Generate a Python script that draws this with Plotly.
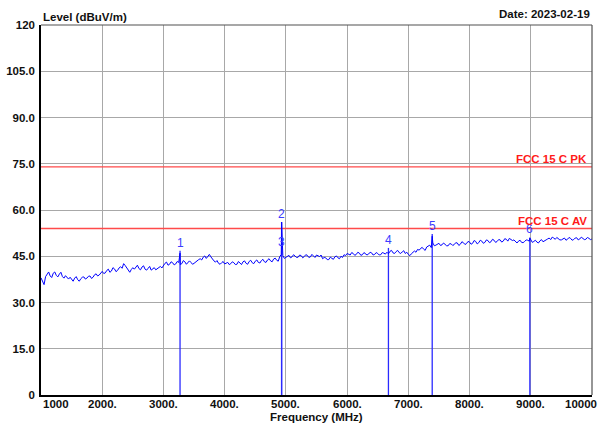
import numpy as np
import plotly.graph_objects as go

# ---- data ----
freq_start, freq_step = 1000, 50
level_trace = [
    38.0, 35.8, 39.2, 38.6, 39.5, 38.8, 39.2, 38.4, 38.7, 37.6,
    37.3, 37.9, 37.4, 37.7, 38.3, 37.9, 38.6, 38.2, 39.3, 38.9,
    40.1, 39.6, 40.8, 40.2, 40.9, 40.4, 41.6, 42.6, 41.2, 39.8,
    41.3, 41.6, 41.0, 41.5, 40.8, 41.1, 40.5, 41.3, 41.0, 41.7,
    42.2, 43.1, 42.4, 42.9, 42.5, 43.0, 42.6, 43.2, 42.8, 43.0,
    42.7, 43.6, 44.2, 44.7, 44.3, 45.6, 44.0, 43.1, 42.7, 42.9,
    42.5, 43.0, 42.6, 42.9, 42.4, 42.8, 43.2, 42.7, 43.3, 42.9,
    43.4, 43.0, 43.6, 43.2, 43.8, 43.5, 44.1, 43.7, 44.9, 45.2,
    44.6, 45.3, 44.8, 45.1, 44.7, 45.2, 44.9, 45.3, 44.8, 45.1,
    45.4, 44.9, 44.2, 44.5, 43.9, 44.3, 44.8, 44.5, 45.0, 45.5,
    45.9, 45.4, 45.9, 45.6, 46.0, 45.5, 45.9, 45.7, 46.1, 45.6,
    45.9, 45.5, 46.0, 46.3, 46.6, 46.1, 46.5, 46.2, 46.4, 45.9,
    45.6, 45.8, 46.7, 47.2, 47.6, 47.3, 48.0, 48.6, 49.3, 48.6,
    49.2, 48.7, 48.9, 48.4, 49.0, 48.8, 49.3, 48.9, 49.4, 49.1,
    49.6, 49.2, 49.8, 49.4, 49.9, 49.5, 50.1, 49.7, 50.2, 49.8,
    50.3, 49.9, 50.5, 50.8, 50.1, 49.7, 49.9, 49.5, 49.8, 50.2,
    50.4, 49.8, 49.6, 50.0, 49.7, 50.3, 50.9, 51.2, 50.5, 50.8,
    50.3, 50.9, 50.5, 50.8, 50.4, 51.0, 50.6, 50.9, 50.5, 50.8,
    50.6,
]
# in-between samples (offset by 25 MHz)
level_mid = [
    37.1, 38.4, 39.9, 38.1, 39.9, 38.3, 39.8, 37.9, 38.1, 38.2,
    36.9, 38.4, 36.9, 38.2, 37.6, 38.5, 37.8, 39.0, 38.6, 39.6,
    39.4, 40.4, 39.8, 41.3, 40.0, 41.2, 41.1, 42.0, 40.2, 40.7,
    40.8, 42.1, 40.6, 41.9, 40.5, 41.7, 40.9, 40.6, 41.6, 41.2,
    42.7, 42.1, 43.2, 42.2, 43.3, 42.3, 43.6, 42.4, 43.5, 42.4,
    43.2, 43.9, 43.8, 45.1, 44.9, 44.8, 43.5, 43.6, 42.4, 43.3,
    42.9, 42.3, 43.2, 42.3, 43.3, 42.3, 43.5, 42.4, 43.7, 42.6,
    43.8, 42.8, 44.0, 43.0, 44.2, 43.2, 44.4, 43.4, 45.6, 44.3,
    45.0, 44.5, 45.5, 44.6, 45.4, 44.5, 45.5, 44.6, 45.6, 44.6,
    45.0, 45.4, 44.6, 43.9, 44.7, 44.0, 45.1, 44.2, 44.6, 45.2,
    45.5, 46.2, 45.3, 46.3, 45.3, 46.2, 45.4, 46.3, 45.4, 46.2,
    45.4, 46.2, 45.7, 45.8, 46.9, 45.9, 46.9, 45.9, 46.8, 46.3,
    45.2, 46.2, 46.3, 47.0, 47.9, 46.9, 48.3, 47.8, 48.4, 49.0,
    48.5, 49.3, 48.4, 49.1, 48.5, 49.4, 48.5, 49.7, 48.8, 49.8,
    48.9, 50.1, 49.0, 50.2, 49.2, 50.3, 49.4, 50.5, 49.5, 50.4,
    49.6, 50.7, 49.9, 50.4, 50.3, 49.3, 50.2, 49.4, 50.3, 49.9,
    49.5, 50.2, 49.3, 50.4, 49.9, 50.6, 50.4, 50.9, 51.1, 50.3,
    50.7, 50.2, 51.1, 50.2, 50.9, 50.3, 51.2, 50.4, 51.1, 50.4,
]
spike_freq = [3271, 4930, 7390, 8985]
spike_level = [46.0, 56.1, 51.5, 50.9]

marker_labels = ["1", "2", "3", "4", "5", "6"]
marker_freq = [3271, 4930, 4930, 6675, 7390, 8985]
marker_level = [46.8, 56.1, 46.9, 47.7, 52.2, 51.1]

limit_names = ["FCC 15 C PK", "FCC 15 C AV"]
limit_levels = [74, 54]

x_ticks = [1000, 2000, 3000, 4000, 5000, 6000, 7000, 8000, 9000, 10000]
x_ticktext = ["1000", "2000.", "3000.", "4000.", "5000.", "6000.", "7000.", "8000.", "9000.", "10000"]
y_ticks = [0, 15, 30, 45, 60, 75, 90, 105, 120]
y_ticktext = ["0", "15.0", "30.0", "45.0", "60.0", "75.0", "90.0", "105.0", "120"]

# ---- build trace ----
base_freq = [freq_start + i * freq_step for i in range(len(level_trace))]
mid_freq = [freq_start + freq_step / 2 + i * freq_step for i in range(len(level_mid))]
pairs = sorted(list(zip(base_freq, level_trace)) + list(zip(mid_freq, level_mid))
               + list(zip(spike_freq, spike_level)))
tr_f = [p[0] for p in pairs]
tr_v = [p[1] for p in pairs]

FONT = "Liberation Sans, Arial, sans-serif"
fig = go.Figure()

for lv in limit_levels:
    fig.add_trace(go.Scatter(x=[1000, 10000], y=[lv, lv], mode="lines",
                             line=dict(color="#ff4a4a", width=1.4),
                             hoverinfo="skip", showlegend=False))

mx, my = [], []
for f, v in zip(marker_freq, marker_level):
    mx += [f, f, None]
    my += [0, v, None]
fig.add_trace(go.Scatter(x=mx, y=my, mode="lines",
                         line=dict(color="#2a2aff", width=1.3),
                         hoverinfo="skip", showlegend=False))

fig.add_trace(go.Scatter(x=tr_f, y=tr_v, mode="lines",
                         line=dict(color="#0000ff", width=1),
                         showlegend=False))

annotations = []
for lab, f, v in zip(marker_labels, marker_freq, marker_level):
    annotations.append(dict(x=f, y=v, xref="x", yref="y", text=lab, showarrow=False,
                            yanchor="bottom", xanchor="center", yshift=-1,
                            font=dict(family=FONT, size=12, color="#3c3cff")))
for name, lv in zip(limit_names, limit_levels):
    annotations.append(dict(x=1, y=lv, xref="paper", yref="y", text=name, showarrow=False,
                            xanchor="right", yanchor="bottom", xshift=-3, yshift=0,
                            font=dict(family=FONT, size=11.5, color="#ff1a1a", weight="bold")))
for i, (t, tt) in enumerate(zip(x_ticks, x_ticktext)):
    anchor = "center"
    xs = 0
    if i == 0:
        anchor = "left"
    elif i == len(x_ticks) - 1:
        anchor = "right"
        xs = 7
    annotations.append(dict(x=t, y=0, xref="x", yref="paper", text=tt, showarrow=False,
                            xanchor=anchor, yanchor="top", yshift=-1, xshift=xs,
                            font=dict(family=FONT, size=11.5, color="#111111", weight="bold")))
annotations.append(dict(x=0, y=1, xref="paper", yref="paper", text="Level (dBuV/m)",
                        showarrow=False, xanchor="left", yanchor="bottom", yshift=0,
                        font=dict(family=FONT, size=11.5, color="#111111", weight="bold")))
annotations.append(dict(x=1, y=1, xref="paper", yref="paper", text="Date: 2023-02-19",
                        showarrow=False, xanchor="right", yanchor="bottom", yshift=3,
                        font=dict(family=FONT, size=11.5, color="#111111", weight="bold")))
annotations.append(dict(x=0.5, y=0, xref="paper", yref="paper", text="Frequency (MHz)",
                        showarrow=False, xanchor="center", yanchor="top", yshift=-14,
                        font=dict(family=FONT, size=11.5, color="#111111", weight="bold")))

fig.update_layout(
    width=600, height=423,
    margin=dict(l=41, r=8, t=25, b=28, autoexpand=False),
    paper_bgcolor="white", plot_bgcolor="white",
    annotations=annotations,
    shapes=[
        dict(type="line", xref="paper", yref="paper", x0=0, x1=1, y0=1, y1=1,
             line=dict(color="#505050", width=1.2)),
        dict(type="line", xref="paper", yref="paper", x0=1, x1=1, y0=0, y1=1,
             line=dict(color="#505050", width=1.2)),
    ],
    xaxis=dict(range=[1000, 10000], tickvals=x_ticks, showticklabels=False,
               showgrid=True, gridcolor="#a8a8a8", gridwidth=1, zeroline=False,
               showline=True, linecolor="#000000", linewidth=1.5, ticks="",
               automargin=False),
    yaxis=dict(range=[0, 120], tickvals=y_ticks, ticktext=y_ticktext,
               showgrid=True, gridcolor="#a8a8a8", gridwidth=1, zeroline=False,
               showline=True, linecolor="#000000", linewidth=1.5, ticks="",
               ticklabelstandoff=2, automargin=False,
               tickfont=dict(family=FONT, size=11.5, color="#111111", weight="bold")),
)

fig.write_html("out.html", config={"displayModeBar": False},
               post_script="document.body.style.margin='0';")
